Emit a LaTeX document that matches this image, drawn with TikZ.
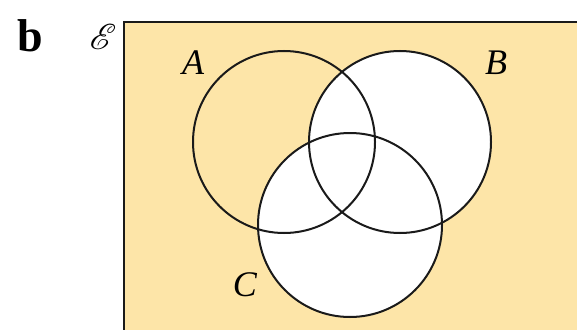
\documentclass[tikz,border=0pt]{standalone}
\usepackage{graphicx}
\usepackage{mathrsfs}
\usepackage{fontspec}
\setmainfont{Liberation Serif}
\definecolor{venn}{HTML}{FDE5A8}
\definecolor{ink}{HTML}{1A1A1A}
\tikzset{
  setline/.style={draw=ink, line width=2pt},
  setlabel/.style={inner sep=0pt, font=\fontsize{36}{40}\selectfont\itshape},
}
\begin{document}
\begin{tikzpicture}[x=1pt,y=-1pt]
\useasboundingbox (0,0) rectangle (577,329);
\clip (0,0) rectangle (577,329);
% universe
\fill[venn] (124,22) rectangle (620,360);
% shaded: B union C in white
\fill[white] (400,142) circle (91pt) (350,225) circle (92pt);
% circles
\draw[setline] (284,142) circle (91pt);
\draw[setline] (400,142) circle (91pt);
\draw[setline] (350,225) circle (92pt);
% frame
\draw[draw=ink, line width=2pt] (620,22) -- (124,22) -- (124,360);
% labels
\node[setlabel] (lblA) at (193,63) {A};
\node[setlabel] (lblB) at (496,63) {B};
\node[setlabel] (lblC) at (245,285) {C};
\node[inner sep=0pt, font=\fontsize{46}{50}\selectfont\bfseries] (lblb) at (30,36) {b};
\node[inner sep=0pt] (lblE) at (103,37) {\scalebox{3.6}{$\mathscr{E}$}};
\end{tikzpicture}
\end{document}
